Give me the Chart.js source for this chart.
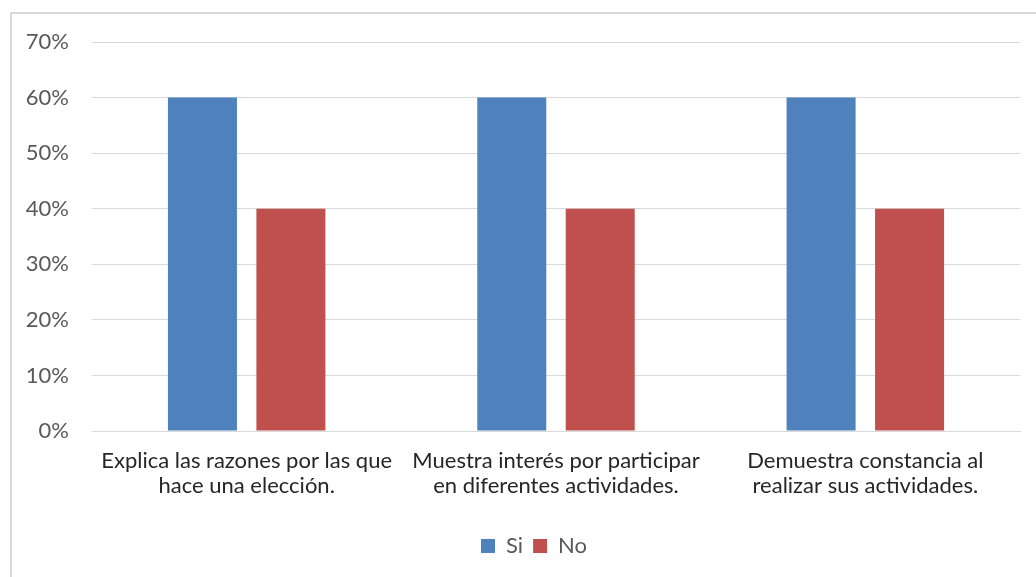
<!DOCTYPE html>
<html lang="es">
<head>
    <meta charset="UTF-8">
    <title>Si / No por indicador</title>
    <script src="https://cdn.jsdelivr.net/npm/chart.js"></script>
    <style>
        html, body { margin: 0; padding: 0; background: #ffffff; }
        #wrap { width: 1036px; height: 577px; }
    </style>
</head>
<body>
    <div id="wrap"><canvas id="myChart" width="1036" height="577"></canvas></div>

    <script>
        // Indicators (two lines each) and the share of answers per option
        var categories = [
            ['Explica las razones por las que', 'hace una elección.'],
            ['Muestra interés por participar', 'en diferentes actividades.'],
            ['Demuestra constancia al', 'realizar sus actividades.']
        ];
        var siValues = [60, 60, 60];
        var noValues = [40, 40, 40];
        var yTicks = [0, 10, 20, 30, 40, 50, 60, 70];

        var FONT = 'Lato, "Open Sans", sans-serif';

        // light frame around the whole chart, legend nudged to the frame's centre
        var framePlugin = {
            id: 'frame',
            afterLayout: function (chart) {
                chart.legend.left += 13;
                chart.legend.right += 13;
            },
            beforeDraw: function (chart) {
                var ctx = chart.ctx;
                ctx.save();
                ctx.strokeStyle = '#d9d9d9';
                ctx.lineWidth = 2;
                ctx.strokeRect(11, 13, chart.width + 20, chart.height + 20);
                ctx.restore();
            }
        };

        var ctx = document.getElementById('myChart').getContext('2d');
        new Chart(ctx, {
            type: 'bar',
            data: {
                labels: categories,
                datasets: [
                    { label: 'Si', data: siValues, backgroundColor: '#4f81bd' },
                    { label: 'No', data: noValues, backgroundColor: '#c0504d' }
                ]
            },
            options: {
                responsive: false,
                animation: false,
                layout: { padding: { left: 22, right: 16, top: 42, bottom: 10 } },
                datasets: {
                    bar: { barPercentage: 0.78, categoryPercentage: 0.572 }
                },
                scales: {
                    x: {
                        grid: { display: false },
                        border: { display: true, color: '#d9d9d9', width: 1 },
                        ticks: {
                            color: '#262626',
                            padding: 9,
                            maxRotation: 0,
                            autoSkip: false,
                            font: { family: FONT, size: 22, lineHeight: 1.14 }
                        },
                        afterFit: function (scale) { scale.height = 94; }
                    },
                    y: {
                        min: 0,
                        max: 70,
                        afterBuildTicks: function (scale) {
                            scale.ticks = yTicks.map(function (v) { return { value: v }; });
                        },
                        grid: { color: '#d9d9d9', drawTicks: false },
                        border: { display: false },
                        ticks: {
                            color: '#595959',
                            padding: 23,
                            font: { family: FONT, size: 22 },
                            callback: function (v) { return v + '%'; }
                        },
                        afterFit: function (scale) { scale.width = 70; }
                    }
                },
                plugins: {
                    legend: {
                        position: 'bottom',
                        labels: {
                            boxWidth: 14,
                            boxHeight: 14,
                            padding: 10,
                            color: '#595959',
                            font: { family: FONT, size: 22 }
                        }
                    },
                    tooltip: { enabled: false }
                }
            },
            plugins: [framePlugin]
        });
    </script>
</body>
</html>
